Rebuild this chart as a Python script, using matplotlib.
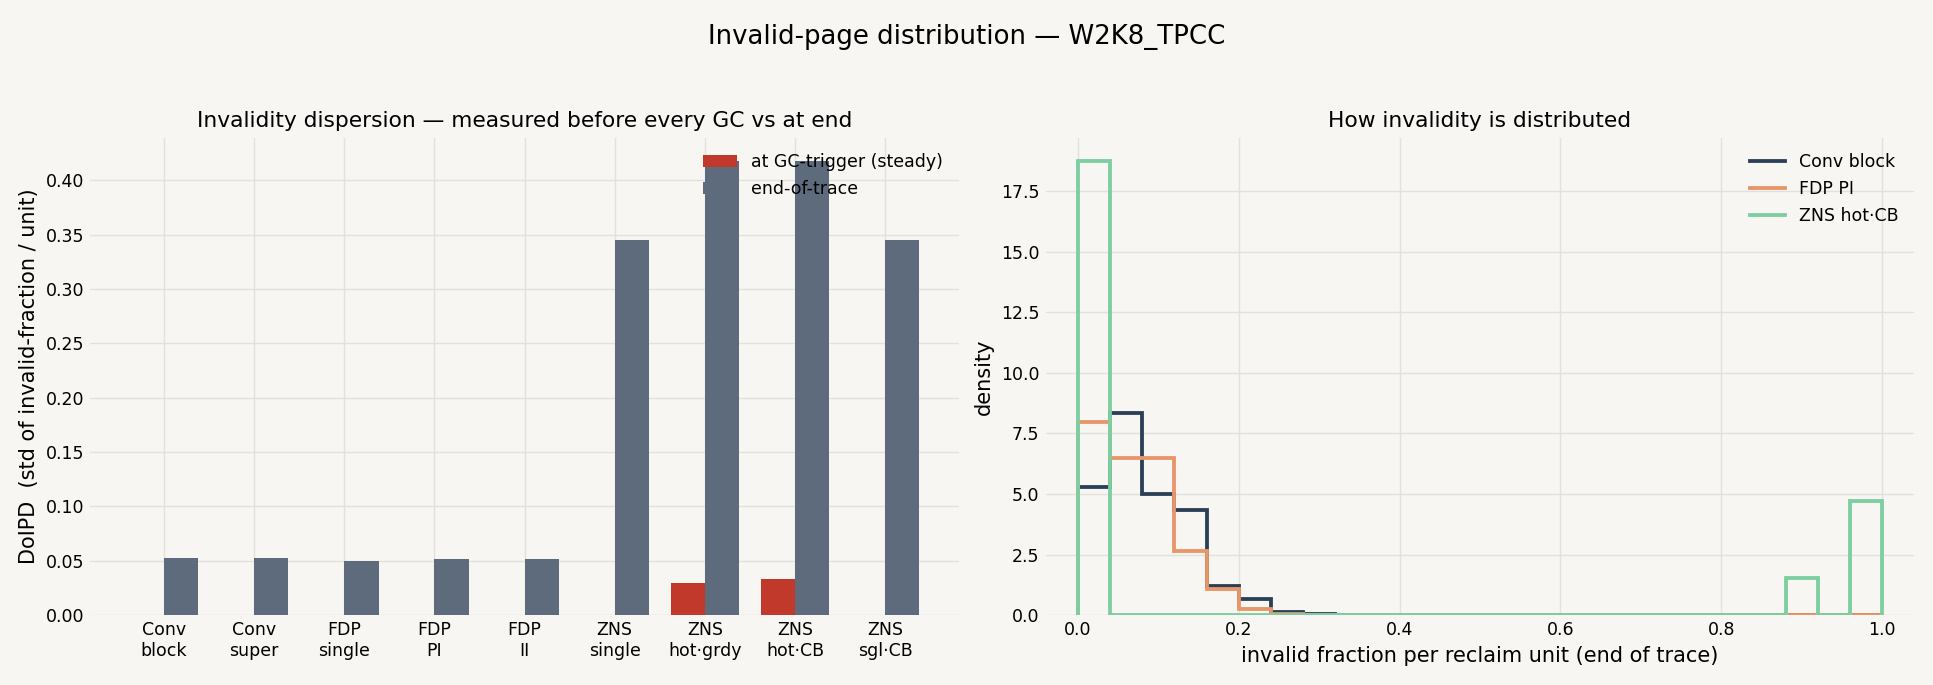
import numpy as np
import matplotlib.pyplot as plt

# left panel data
schemes = ['Conv\nblock', 'Conv\nsuper', 'FDP\nsingle', 'FDP\nPI', 'FDP\nII',
           'ZNS\nsingle', 'ZNS\nhot·grdy', 'ZNS\nhot·CB', 'ZNS\nsgl·CB']
gc_trigger = [0, 0, 0, 0, 0, 0, 0.030, 0.033, 0]
end_trace = [0.053, 0.053, 0.050, 0.052, 0.052, 0.345, 0.418, 0.418, 0.345]

# right panel data (density per 0.04 bin)
edges = np.linspace(0, 1, 26)
conv_block = [5.3, 8.35, 5.0, 4.35, 1.2, 0.65, 0.15, 0.05] + [0] * 17
fdp_pi = [7.95, 6.5, 6.5, 2.65, 1.1, 0.25, 0.05] + [0] * 18
zns_hot_cb = [18.75] + [0] * 21 + [1.55, 0, 4.7]

bg = '#f7f6f2'
fig, (ax1, ax2) = plt.subplots(1, 2, figsize=(15.464, 5.48), dpi=125, facecolor=bg)
fig.suptitle('Invalid-page distribution — W2K8_TPCC', fontsize=15, y=0.965)

x = np.arange(len(schemes))
w = 0.38
ax1.bar(x - w / 2, gc_trigger, w, color='#c0392b', label='at GC-trigger (steady)')
ax1.bar(x + w / 2, end_trace, w, color='#5d6b7d', label='end-of-trace')
ax1.set_xticks(x)
ax1.set_xticklabels(schemes)
ax1.set_ylabel('DoIPD  (std of invalid-fraction / unit)', fontsize=12)
ax1.set_title('Invalidity dispersion — measured before every GC vs at end', fontsize=12.5)
ax1.legend(frameon=False, loc='upper right', fontsize=10)

ax2.stairs(conv_block, edges, color='#2b4058', lw=2.2, label='Conv block')
ax2.stairs(fdp_pi, edges, color='#e8956a', lw=2.2, label='FDP PI')
ax2.stairs(zns_hot_cb, edges, color='#7dcea0', lw=2.2, label='ZNS hot·CB')
ax2.set_xlabel('invalid fraction per reclaim unit (end of trace)', fontsize=12)
ax2.set_ylabel('density', fontsize=12)
ax2.set_title('How invalidity is distributed', fontsize=12.5)
ax2.set_xlim(-0.04, 1.04)
ax2.legend(frameon=False, loc='upper right', fontsize=10)

for ax in (ax1, ax2):
    ax.set_facecolor(bg)
    for s in ax.spines.values():
        s.set_visible(False)
    ax.grid(True, color='#e2e1dc', lw=0.8)
    ax.set_axisbelow(True)
    ax.tick_params(length=0, labelsize=10)

plt.tight_layout(rect=[0, 0, 1, 0.93])
plt.subplots_adjust(wspace=0.1)
plt.savefig('out.png', facecolor=bg)
